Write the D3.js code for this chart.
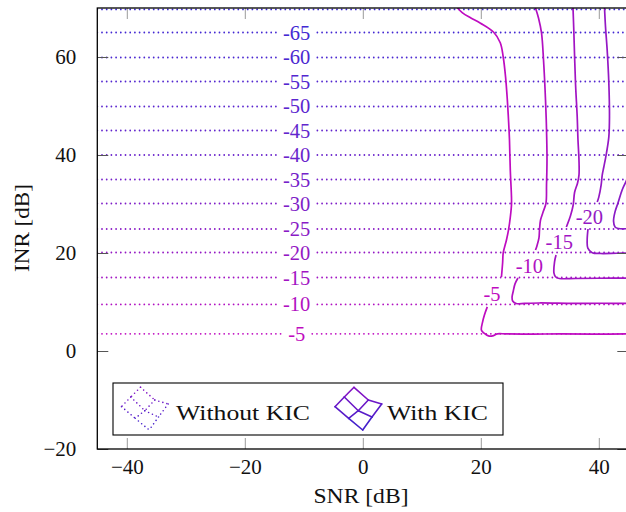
<!DOCTYPE html>
<html><head><meta charset="utf-8">
<script src="https://cdn.jsdelivr.net/npm/d3@7"></script>
<style>
body{margin:0;background:#fff}
svg{display:block}
text{font-family:"Liberation Serif","Times New Roman",serif}
</style>
</head><body>
<svg id="chart" width="626" height="512"></svg>
<script>
// ---------- data ----------
const xTicks = [-40, -20, 0, 20, 40];
const yTicks = [-20, 0, 20, 40, 60];
const xLabel = "SNR [dB]";
const yLabel = "INR [dB]";
const legendLabels = ["Without KIC", "With KIC"];

// "Without KIC": contour levels and the INR at which each (flat) contour lies
const withoutLevels = [-70, -65, -60, -55, -50, -45, -40, -35, -30, -25, -20, -15, -10, -5];
const withoutINR    = [69.7, 65.0, 59.9, 55.0, 49.9, 45.0, 40.0, 35.0, 30.1, 24.9, 20.1, 15.0, 9.5, 3.5];
const withoutLabelSNR = -11.2;

// "With KIC": contour segments [SNR, INR]
const withLevels = [-5, -10, -15, -20, -25];
const kicM5a = [[16.05,70.0],[16.9,69.0],[18.25,68.0],[19.95,66.9],[22.15,65.1],[23.3,62.9],[23.8,60.0],[24.2,55.9],[24.5,51.2],[24.7,47.1],[24.86,43.1],[25.0,36.9],[25.2,31.4],[25.2,29.8],[25.0,27.3],[24.7,24.7],[24.35,22.65],[23.8,20.0],[23.7,18.0],[23.5,15.1]];
const kicM5b = [[21.1,9.0],[20.6,7.3],[20.3,5.9],[20.1,4.3],[20.5,3.7],[21.3,3.1],[22.0,3.1],[22.8,3.5],[24.2,3.5],[29.0,3.45],[33.5,3.5],[39.0,3.45],[45.5,3.5]];
const kicM10a = [[29.27,70.0],[29.78,67.96],[30.29,64.9],[30.63,59.4],[30.97,51.2],[31.14,45.1],[31.22,39.0],[31.14,33.9],[31.05,30.2],[30.63,28.6],[30.12,26.7],[29.95,24.7],[29.86,23.1],[29.5,21.4],[29.27,20.6]];
const kicM10b = [[26.3,14.9],[25.8,13.7],[25.5,12.2],[25.3,11.0],[25.4,10.2],[26.0,9.7],[27.4,9.7],[29.9,9.8],[35.8,9.7],[40.0,9.75],[45.5,9.7]];
const kicM15a = [[35.63,70.0],[35.76,65.5],[36.05,54.7],[36.34,47.8],[36.47,43.1],[36.64,39.0],[36.64,35.9],[36.4,34.3],[35.9,32.4],[35.66,29.8],[35.2,27.6],[34.5,25.3]];
const kicM15b = [[32.75,19.6],[32.5,18.2],[32.4,15.9],[32.7,15.1],[33.3,14.8],[36.05,14.8],[40.0,14.85],[45.5,14.9]];
const kicM20a = [[40.97,70.0],[41.14,66.1],[41.42,61.4],[41.7,54.7],[41.81,47.8],[41.7,43.7],[41.3,40.4],[40.85,37.55],[40.58,35.9],[40.4,33.9],[40.0,31.4],[39.73,30.4]];
const kicM20b = [[38.17,24.9],[38.03,22.65],[38.14,21.0],[38.88,20.06],[40.3,19.9],[43.0,19.95],[45.5,20.0]];
const kicM25a = [[45.3,36.2],[44.86,35.3],[44.5,34.3],[43.97,32.9],[43.25,30.2],[42.75,28.4],[42.5,26.5],[42.75,25.3],[43.34,25.0],[45.5,25.0]];
const withSegments = [[-5, kicM5a], [-5, kicM5b], [-10, kicM10a], [-10, kicM10b], [-15, kicM15a], [-15, kicM15b], [-20, kicM20a], [-20, kicM20b], [-25, kicM25a]];
const withLabelPos = [[-5, 21.9, 11.6], [-10, 28.25, 17.35], [-15, 33.3, 22.2], [-20, 38.4, 27.35]];

// ---------- drawing ----------
const svg = d3.select("#chart");
const x = d3.scaleLinear().domain([-45, 45]).range([97.3, 628.3]);
const y = d3.scaleLinear().domain([-20, 70]).range([449, 8]);
const color = d3.scaleLinear()
  .domain([-70, -40, -20, -5])
  .range(["#3c2ad4", "#6a24cc", "#9418c4", "#bf0cc0"])
  .interpolate(d3.interpolateRgb);

svg.append("defs").append("clipPath").attr("id", "clip")
  .append("rect").attr("x", x(-45)).attr("y", y(70)).attr("width", x(45) - x(-45)).attr("height", y(-20) - y(70));

const plot = svg.append("g").attr("clip-path", "url(#clip)");

// dotted contours (Without KIC) with inline labels
const fs = 20.5;
const pxPerUnit = x(1) - x(0);
withoutLevels.forEach((lev, i) => {
  const yy = withoutINR[i];
  const c = color(lev);
  let half = 0;
  if (lev !== -70) {
    const t = plot.append("text")
      .attr("x", x(withoutLabelSNR)).attr("y", y(yy))
      .attr("text-anchor", "middle").attr("dominant-baseline", "central")
      .attr("font-size", fs).attr("fill", c).text(String(lev));
    half = t.node().getComputedTextLength() / 2 + 7;
  }
  const segs = half > 0
    ? [[[-45, yy], [withoutLabelSNR - half / pxPerUnit, yy]], [[withoutLabelSNR + half / pxPerUnit, yy], [45, yy]]]
    : [[[-45, yy], [45, yy]]];
  segs.forEach(s => {
    plot.append("path")
      .attr("d", d3.line().x(d => x(d[0])).y(d => y(d[1]))(s))
      .attr("fill", "none").attr("stroke", c).attr("stroke-width", 1.8)
      .attr("stroke-linecap", "round").attr("stroke-dasharray", "0 4.7");
  });
});

// solid contours (With KIC)
const line = d3.line().x(d => x(d[0])).y(d => y(d[1])).curve(d3.curveCatmullRom.alpha(0.5));
withSegments.forEach(([lev, pts]) => {
  plot.append("path").attr("d", line(pts))
    .attr("fill", "none").attr("stroke", color(lev)).attr("stroke-width", 1.7)
    .attr("stroke-linejoin", "round");
});
withLabelPos.forEach(([lev, sx, sy]) => {
  plot.append("text").attr("x", x(sx)).attr("y", y(sy))
    .attr("text-anchor", "middle").attr("dominant-baseline", "central")
    .attr("font-size", fs).attr("fill", color(lev)).text(String(lev));
});

// axes (ticks inward, no domain)
const fmt = d => (d < 0 ? "\u2212" + Math.abs(d) : String(d));
const gx = svg.append("g").attr("transform", `translate(0,${y(-20)})`)
  .call(d3.axisBottom(x).tickValues(xTicks).tickFormat(fmt).tickSize(-11).tickPadding(10));
const gxt = svg.append("g").attr("transform", `translate(0,${y(70)})`)
  .call(d3.axisTop(x).tickValues(xTicks).tickFormat("").tickSize(-11));
const gy = svg.append("g").attr("transform", `translate(${x(-45)},0)`)
  .call(d3.axisLeft(y).tickValues(yTicks).tickFormat(fmt).tickSize(-11).tickPadding(21));
const gyr = svg.append("g").attr("transform", `translate(${x(45)},0)`)
  .call(d3.axisRight(y).tickValues(yTicks).tickFormat("").tickSize(-11));
[gx, gxt, gy, gyr].forEach(g => g.select(".domain").remove());
[gx, gxt].forEach(g => g.selectAll(".tick line").attr("stroke", "#9a9a9a"));
[gy, gyr].forEach(g => g.selectAll(".tick line").attr("stroke", "#555"));
[gx, gy].forEach(g => g.selectAll(".tick text")
  .attr("font-family", '"Liberation Serif", serif').attr("font-size", 21).attr("fill", "#111"));

// frame
svg.append("rect").attr("x", x(-45)).attr("y", y(70))
  .attr("width", x(45) - x(-45)).attr("height", y(-20) - y(70))
  .attr("fill", "none").attr("stroke", "#000").attr("stroke-width", 1.3);

// axis titles
svg.append("text").attr("x", 361).attr("y", 503).attr("text-anchor", "middle")
  .attr("font-size", 22).attr("fill", "#111")
  .attr("textLength", 95).attr("lengthAdjust", "spacingAndGlyphs").text(xLabel);
svg.append("text").attr("transform", "translate(29,228) rotate(-90)").attr("text-anchor", "middle")
  .attr("font-size", 22).attr("fill", "#111")
  .attr("textLength", 88).attr("lengthAdjust", "spacingAndGlyphs").text(yLabel);

// legend
const lg = svg.append("g");
lg.append("rect").attr("x", 113).attr("y", 383).attr("width", 390).attr("height", 52)
  .attr("fill", "#fff").attr("stroke", "#000").attr("stroke-width", 1.1);
// icon grid (3x3 points) for the contour legend image
const iconGrid = [
  [[354.0, 387.3], [344.3, 397.0], [335.0, 406.7]],
  [[368.3, 400.0], [358.3, 410.7], [348.7, 418.3]],
  [[381.7, 404.0], [372.0, 417.0], [362.7, 430.0]]
];
const iconColor = d3.interpolateRgb("#8a10c4", "#3a22cc");
function drawIcon(dx, dotted) {
  const g = lg.append("g").attr("transform", `translate(${dx},0)`);
  for (let i = 0; i < 3; i++) for (let j = 0; j < 3; j++) {
    const nb = [];
    if (i < 2) nb.push([i + 1, j]);
    if (j < 2) nb.push([i, j + 1]);
    nb.forEach(([a, b]) => {
      const t = (i + j + a + b) / 8;
      g.append("line")
        .attr("x1", iconGrid[i][j][0]).attr("y1", iconGrid[i][j][1])
        .attr("x2", iconGrid[a][b][0]).attr("y2", iconGrid[a][b][1])
        .attr("stroke", iconColor(t)).attr("stroke-width", 1.6)
        .attr("stroke-linecap", "round")
        .attr("stroke-dasharray", dotted ? "0 4.2" : null);
    });
  }
}
drawIcon(-213.5, true);
drawIcon(0, false);
lg.append("text").attr("x", 176).attr("y", 419.5).attr("font-size", 22).attr("fill", "#111")
  .attr("textLength", 134).attr("lengthAdjust", "spacingAndGlyphs").text(legendLabels[0]);
lg.append("text").attr("x", 387).attr("y", 419.5).attr("font-size", 22).attr("fill", "#111")
  .attr("textLength", 101).attr("lengthAdjust", "spacingAndGlyphs").text(legendLabels[1]);
</script>
</body></html>
